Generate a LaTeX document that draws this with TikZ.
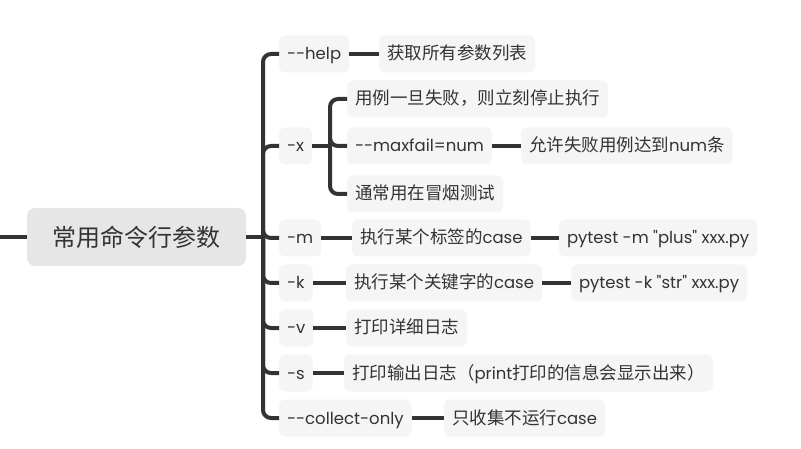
\documentclass[tikz,border=0pt]{standalone}
\usepackage{fontspec}
\setmainfont{Poppins}[Ligatures=TeXOff]
\newfontfamily\cjk{Noto Sans CJK SC}
\newcommand\zh{\cjk\fontsize{17.5}{20}\selectfont}
\usepackage{tikz}

\definecolor{linegray}{HTML}{333333}
\definecolor{boxgray}{HTML}{F5F5F5}
\definecolor{rootgray}{HTML}{E6E6E6}

\begin{document}
\begin{tikzpicture}[x=1pt, y=-1pt,
  every node/.style={text=linegray, outer sep=0pt},
  topic/.style={fill=boxgray, rounded corners=6pt, anchor=west, inner xsep=8pt,
    minimum height=37pt, text height=15pt, text depth=3pt,
    font=\fontsize{16.5}{20}\selectfont},
  central/.style={fill=rootgray, rounded corners=8pt, minimum width=219pt,
    minimum height=58pt, font=\cjk\fontsize{24}{28}\selectfont},
  link/.style={draw=linegray, line width=4pt, rounded corners=8pt}]
\useasboundingbox (0,0) rectangle (801,449);

\node[central] (root) at (136.5,237) {常用命令行参数};

\node[topic] (help) at (279,54) {--help};
\node[topic] (x) at (279,146) {-x};
\node[topic] (m) at (279,238) {-m};
\node[topic] (k) at (279,283) {-k};
\node[topic] (v) at (279,328) {-v};
\node[topic] (s) at (279,373) {-s};
\node[topic] (co) at (279,418) {--collect-only};

\node[topic] (helpd) at (379,54) {\zh 获取所有参数列表};
\node[topic] (x1) at (347,99) {\zh 用例一旦失败，则立刻停止执行};
\node[topic] (x2) at (347,146) {--maxfail=num};
\node[topic] (x3) at (347,194) {\zh 通常用在冒烟测试};
\node[topic] (x2d) at (521,146) {{\zh 允许失败用例达到}num{\zh 条}};
\node[topic] (md) at (352,238) {{\zh 执行某个标签的}case};
\node[topic] (me) at (559,238) {pytest -m "plus" xxx.py};
\node[topic] (kd) at (346,283) {{\zh 执行某个关键字的}case};
\node[topic] (ke) at (571,283) {pytest -k "str" xxx.py};
\node[topic] (vd) at (346,328) {\zh 打印详细日志};
\node[topic] (sd) at (344,373) {{\zh 打印输出日志（}print{\zh 打印的信息会显示出来）}};
\node[topic] (cod) at (444,418) {{\zh 只收集不运行}case};

\coordinate (lft) at (0,237);
\coordinate (b1) at (263,237);
\coordinate (b2) at (330,146);

\draw[link] (lft) -- (root.west);
\draw[link] (root.east) -- (b1);
\draw[link] (b1) |- (help.west);
\draw[link] (b1) |- (x.west);
\draw[link] (b1) |- (m.west);
\draw[link] (b1) |- (k.west);
\draw[link] (b1) |- (v.west);
\draw[link] (b1) |- (s.west);
\draw[link] (b1) |- (co.west);

\draw[link] (x.east) -- (b2);
\draw[link] (b2) |- (x1.west);
\draw[link] (b2) |- (x2.west);
\draw[link] (b2) |- (x3.west);

\draw[link] (help.east) -- (helpd.west);
\draw[link] (x2.east) -- (x2d.west);
\draw[link] (m.east) -- (md.west);
\draw[link] (md.east) -- (me.west);
\draw[link] (k.east) -- (kd.west);
\draw[link] (kd.east) -- (ke.west);
\draw[link] (v.east) -- (vd.west);
\draw[link] (s.east) -- (sd.west);
\draw[link] (co.east) -- (cod.west);
\end{tikzpicture}
\end{document}
